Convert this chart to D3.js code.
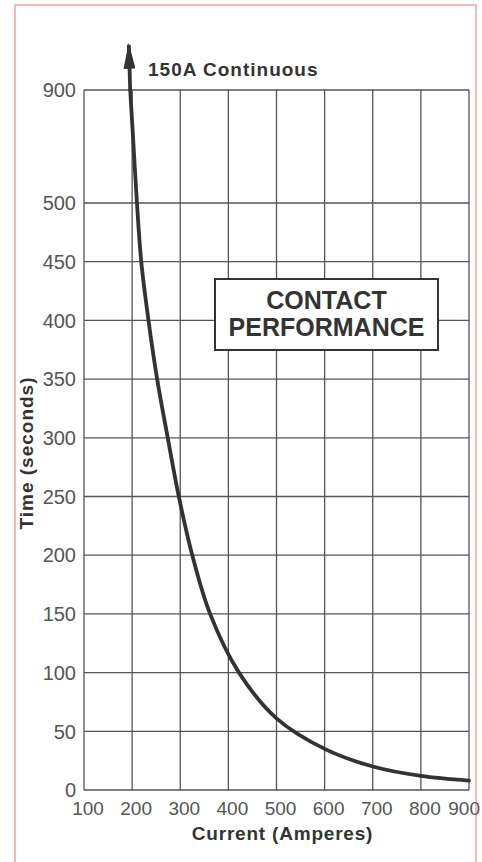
<!DOCTYPE html>
<html>
<head>
<meta charset="utf-8">
<script src="https://cdn.jsdelivr.net/npm/d3@7"></script>
<style>
  html, body { margin: 0; padding: 0; background: #fff; }
  svg { display: block; }
</style>
</head>
<body>
<div id="chart"></div>
<script>
// Tick values
const currentTicks = [100, 200, 300, 400, 500, 600, 700, 800, 900];
const timeTicks = [0, 50, 100, 150, 200, 250, 300, 350, 400, 450, 500, 900];

// Curve (current in amperes, time in seconds)
const curveCurrent = [196, 203, 210, 219, 234, 252, 274, 297, 325, 362, 422, 500, 600, 700, 800, 900];
const curveTime = [900, 700, 500, 450, 400, 350, 300, 250, 200, 150, 100, 61, 35, 20, 12, 8];

// Arrow tip above the chart
const arrowTip = { current: 193, time: 1060 };

const colors = {
  ink: "#333",
  grid: "#555",
  label: "#555",
  frame: "#f4a3a3",
};

const width = 482,
  height = 862;

const svg = d3
  .select("#chart")
  .append("svg")
  .attr("width", width)
  .attr("height", height);

// Pink page frame
svg
  .append("rect")
  .attr("x", 15)
  .attr("y", 5)
  .attr("width", 461)
  .attr("height", 880)
  .attr("fill", "none")
  .attr("stroke", colors.frame)
  .attr("stroke-width", 1.5);

// Scales (time axis is compressed between 500 and 900)
const x = d3.scaleLinear().domain([100, 900]).range([84, 469]);
const y = d3.scaleLinear().domain([0, 500, 900]).range([790, 203, 90]);

// Grid
const grid = svg.append("g").attr("stroke", colors.grid).attr("stroke-width", 1.3);

grid
  .selectAll("line.v")
  .data(currentTicks)
  .join("line")
  .attr("class", "v")
  .attr("x1", (d) => x(d))
  .attr("x2", (d) => x(d))
  .attr("y1", y(0))
  .attr("y2", y(900));

grid
  .selectAll("line.h")
  .data(timeTicks)
  .join("line")
  .attr("class", "h")
  .attr("x1", x(100))
  .attr("x2", x(900))
  .attr("y1", (d) => y(d))
  .attr("y2", (d) => y(d));

// Tick labels
const font = "'Liberation Sans', Arial, Helvetica, sans-serif";

svg
  .append("g")
  .selectAll("text")
  .data(timeTicks)
  .join("text")
  .attr("x", x(100) - 8)
  .attr("y", (d) => y(d))
  .attr("dy", "0.36em")
  .attr("text-anchor", "end")
  .attr("font-family", font)
  .attr("font-size", 20)
  .attr("fill", colors.label)
  .text((d) => d);

svg
  .append("g")
  .selectAll("text")
  .data(currentTicks)
  .join("text")
  .attr("x", (d, i) => (i === currentTicks.length - 1 ? x(d) + 11 : x(d) + 4))
  .attr("y", y(0) + 25)
  .attr("text-anchor", (d, i) => (i === currentTicks.length - 1 ? "end" : "middle"))
  .attr("font-family", font)
  .attr("font-size", 19)
  .attr("fill", colors.label)
  .text((d) => d);

// Axis titles
svg
  .append("text")
  .attr("x", (x(100) + x(900)) / 2 + 6)
  .attr("y", 840)
  .attr("text-anchor", "middle")
  .attr("font-family", font)
  .attr("font-size", 19)
  .attr("font-weight", "bold")
  .attr("letter-spacing", 0.8)
  .attr("fill", colors.ink)
  .text("Current (Amperes)");

svg
  .append("text")
  .attr("transform", "translate(33,453) rotate(-90)")
  .attr("text-anchor", "middle")
  .attr("font-family", font)
  .attr("font-size", 19)
  .attr("font-weight", "bold")
  .attr("letter-spacing", 1)
  .attr("fill", colors.ink)
  .text("Time (seconds)");

// Title box
const box = svg.append("g");
box
  .append("rect")
  .attr("x", 215)
  .attr("y", 279)
  .attr("width", 223)
  .attr("height", 71)
  .attr("fill", "#fff")
  .attr("stroke", colors.ink)
  .attr("stroke-width", 2);

box
  .selectAll("text")
  .data(["CONTACT", "PERFORMANCE"])
  .join("text")
  .attr("x", 326.5)
  .attr("y", (d, i) => 309 + i * 27)
  .attr("text-anchor", "middle")
  .attr("font-family", font)
  .attr("font-size", 25)
  .attr("font-weight", "bold")
  .attr("fill", colors.ink)
  .text((d) => d);

// Curve
const points = curveCurrent.map((c, i) => [c, curveTime[i]]);

const line = d3
  .line()
  .x((d) => x(d[0]))
  .y((d) => y(d[1]))
  .curve(d3.curveCatmullRom.alpha(0.5));

svg
  .append("path")
  .datum(points)
  .attr("d", line)
  .attr("fill", "none")
  .attr("stroke", colors.ink)
  .attr("stroke-width", 3.8)
  .attr("stroke-linecap", "round");

// Arrow going off the top
svg
  .append("defs")
  .append("marker")
  .attr("id", "head")
  .attr("markerUnits", "userSpaceOnUse")
  .attr("viewBox", "0 0 26 12")
  .attr("refX", 24)
  .attr("refY", 6)
  .attr("markerWidth", 26)
  .attr("markerHeight", 12)
  .attr("orient", "auto")
  .append("path")
  .attr("d", "M0,0 L26,6 L0,12 Z")
  .attr("fill", colors.ink);

svg
  .append("line")
  .attr("x1", x(curveCurrent[0]))
  .attr("y1", y(curveTime[0]))
  .attr("x2", x(arrowTip.current))
  .attr("y2", y(arrowTip.time))
  .attr("stroke", colors.ink)
  .attr("stroke-width", 3.8)
  .attr("marker-end", "url(#head)");

svg
  .append("text")
  .attr("x", 148)
  .attr("y", 76)
  .attr("font-family", font)
  .attr("font-size", 19)
  .attr("font-weight", "bold")
  .attr("letter-spacing", 1)
  .attr("fill", colors.ink)
  .text("150A Continuous");
</script>
</body>
</html>
